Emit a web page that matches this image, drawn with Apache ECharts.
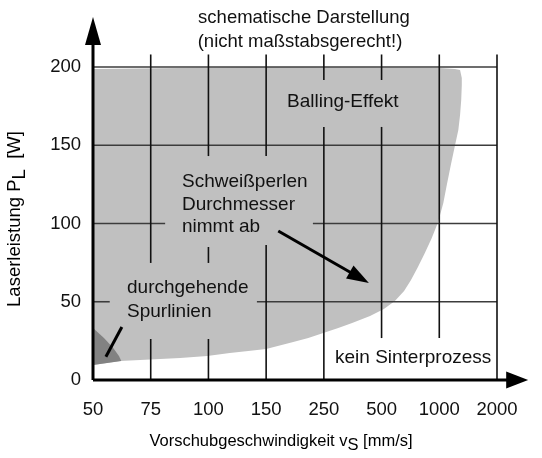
<!DOCTYPE html>
<html><head><meta charset="utf-8">
<script src="https://cdn.jsdelivr.net/npm/echarts@6/dist/echarts.min.js"></script>
<style>html,body{margin:0;padding:0;background:#fff}#c{width:542px;height:458px}</style>
</head><body><div id="c"></div>
<script>
// x categories (log-like, evenly spaced) and y ticks
const xLabels = ['50','75','100','150','250','500','1000','2000'];
const yTicks = [0, 50, 100, 150, 200];

// Balling region outline (x in category index units, y in W)
const ballingX = [0, 1.51, 2.72, 4.45, 6.01, 6.27, 6.36, 6.39, 6.39, 6.38, 6.36, 6.33, 6.27, 6.20, 6.13, 6.07, 5.98, 5.87, 5.75, 5.63, 5.51, 5.39, 5.23, 5.04, 4.80, 4.49, 4.25, 3.99, 3.73, 3.47, 3.00, 2.69, 2.37, 1.98, 1.51, 0.99, 0.47, 0];
const ballingY = [198.7, 199.4, 200, 199.7, 199.4, 198.7, 198.1, 193.0, 188.5, 178.9, 169.3, 159.7, 149.5, 137.4, 124.6, 113.1, 101.0, 90.7, 81.2, 72.2, 63.9, 56.9, 50.5, 45.4, 40.9, 36.4, 33.2, 30.0, 26.8, 24.3, 19.8, 18.5, 17.3, 15.3, 14.1, 13.1, 12.1, 9.6];

// "durchgehende Spurlinien" region
const spurX = [0, 0.19, 0.35, 0.45, 0.49, 0];
const spurY = [33.2, 26.8, 20.4, 15.3, 12.1, 9.6];

// grid segments [x1, y1, x2, y2] (interrupted around the labels)
const vGrid = [
  [1, 208, 1, 74.8], [1, 26.2, 1, 0],
  [2, 208, 2, 143.1], [2, 85.0, 2, 74.8], [2, 26.2, 2, 0],
  [3, 208, 3, 143.1], [3, 86.3, 3, 0],
  [4, 208, 4, 191.7], [4, 161.7, 4, 0],
  [5, 208, 5, 191.7], [5, 161.7, 5, 26.8],
  [6, 208, 6, 26.8],
  [7, 208, 7, 0]
];
const hGrid = [
  [0, 200, 7, 200], [0, 150, 7, 150],
  [0, 100, 1.25, 100], [3.81, 100, 7, 100],
  [0, 50, 0.29, 50], [2.84, 50, 7, 50]
];
// axes ends (value units)
const axisEnds = { xEnd: 7.54, yEnd: 232 };
// annotation arrows [x1,y1,x2,y2]
const arrowMain = [3.21, 95.2, 4.78, 62.0];
const spurPointer = [0.50, 33.9, 0.24, 16.0];

const chart = echarts.init(document.getElementById('c'));
const FONT = 'Liberation Sans, Arial, sans-serif';
const FS = 18.5;
const FA = 19;

function polygonSeries(xs, ys, color) {
  return {
    type: 'custom', clip: false, silent: true,
    data: [[0, 0]],
    renderItem: function (p, api) {
      const pts = xs.map((x, i) => api.coord([x, ys[i]]));
      return { type: 'polygon', shape: { points: pts }, style: { fill: color } };
    }
  };
}
function segSeries(segs, color, width) {
  return {
    type: 'custom', clip: false, silent: true,
    data: segs,
    renderItem: function (p, api) {
      const a = api.coord([api.value(0), api.value(1)]);
      const b = api.coord([api.value(2), api.value(3)]);
      return { type: 'line', shape: { x1: a[0], y1: a[1], x2: b[0], y2: b[1] }, style: { stroke: color, lineWidth: width } };
    }
  };
}
function arrowSeries(seg, width, headLen, headW) {
  return {
    type: 'custom', clip: false, silent: true,
    data: [seg],
    renderItem: function (p, api) {
      const a = api.coord([api.value(0), api.value(1)]);
      const b = api.coord([api.value(2), api.value(3)]);
      const dx = b[0] - a[0], dy = b[1] - a[1];
      const L = Math.sqrt(dx * dx + dy * dy);
      const ux = dx / L, uy = dy / L;
      const bx = b[0] - ux * headLen, by = b[1] - uy * headLen;
      const children = [
        { type: 'line', shape: { x1: a[0], y1: a[1], x2: bx + ux * 2, y2: by + uy * 2 }, style: { stroke: '#000', lineWidth: width } }
      ];
      if (headLen > 0) {
        children.push({ type: 'polygon', shape: { points: [b, [bx - uy * headW / 2, by + ux * headW / 2], [bx + uy * headW / 2, by - ux * headW / 2]] }, style: { fill: '#000' } });
      }
      return { type: 'group', children: children };
    }
  };
}
function txt(x, y, s, align, size) {
  return { type: 'text', x: x, y: y, z: 100, silent: true,
    style: { text: s, textAlign: align, textVerticalAlign: 'middle', fill: '#111', font: (size || FA) + 'px ' + FONT } };
}

const option = {
  animation: false,
  backgroundColor: '#fff',
  grid: { left: 93, right: 45, top: 67, bottom: 78 },
  xAxis: {
    type: 'value', min: 0, max: xLabels.length - 1, interval: 1,
    axisLine: { show: false }, axisTick: { show: false }, splitLine: { show: false },
    axisLabel: { formatter: v => xLabels[Math.round(v)], color: '#111', fontFamily: FONT, fontSize: FS, margin: 20 }
  },
  yAxis: {
    type: 'value', min: yTicks[0], max: yTicks[yTicks.length - 1], interval: 50,
    axisLine: { show: false }, axisTick: { show: false }, splitLine: { show: false },
    axisLabel: { color: '#111', fontFamily: FONT, fontSize: FS, margin: 12 }
  },
  series: [
    polygonSeries(ballingX, ballingY, '#c0c0c0'),
    polygonSeries(spurX, spurY, '#828282'),
    segSeries(hGrid, '#3c3c3c', 1.6),
    segSeries(vGrid, '#111', 1.6),
    arrowSeries([0, 0, axisEnds.xEnd, 0], 3, 22, 17),
    arrowSeries([0, 0, 0, axisEnds.yEnd], 3, 28, 16),
    arrowSeries(arrowMain, 3, 22, 15),
    arrowSeries(spurPointer, 3, 0, 0)
  ],
  graphic: [
    txt(304, 18, 'schematische Darstellung', 'center', FS),
    txt(300, 42, '(nicht maßstabsgerecht!)', 'center', FS),
    txt(287, 102, 'Balling-Effekt', 'left'),
    txt(182, 182, 'Schweißperlen', 'left'),
    txt(182, 205, 'Durchmesser', 'left'),
    txt(182, 227, 'nimmt ab', 'left'),
    txt(127, 288, 'durchgehende', 'left'),
    txt(127, 312, 'Spurlinien', 'left'),
    txt(335, 358, 'kein Sinterprozess', 'left'),
    { type: 'text', x: 281, y: 441, z: 100, silent: true, style: {
        text: '{a|Vorschubgeschwindigkeit v}{s|S}{a| [mm/s]}', textAlign: 'center', textVerticalAlign: 'middle',
        rich: { a: { fontFamily: FONT, fontSize: 16.5, color: '#111' }, s: { fontFamily: FONT, fontSize: 16.5, color: '#111', padding: [9, 0, 0, 0] } } } },
    { type: 'text', x: 15, y: 219, z: 100, silent: true, rotation: Math.PI / 2, style: {
        text: '{a|Laserleistung P}{s|L}{a|  [W]}', textAlign: 'center', textVerticalAlign: 'middle',
        rich: { a: { fontFamily: FONT, fontSize: FS, color: '#111' }, s: { fontFamily: FONT, fontSize: FS, color: '#111', padding: [10, 0, 0, 0] } } } }
  ]
};
chart.setOption(option);
</script></body></html>
